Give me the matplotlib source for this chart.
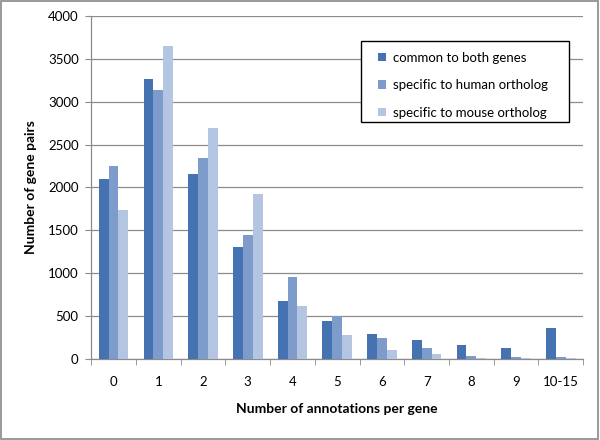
import matplotlib
matplotlib.use("Agg")
import matplotlib.pyplot as plt
import numpy as np
from matplotlib.patches import Rectangle

plt.rcParams['font.family'] = ['Lato', 'DejaVu Sans']

categories = ["0", "1", "2", "3", "4", "5", "6", "7", "8", "9", "10-15"]
common = [2100, 3260, 2160, 1300, 680, 445, 287, 225, 159, 132, 365]
human = [2250, 3130, 2340, 1450, 960, 500, 248, 132, 38, 20, 25]
mouse = [1740, 3650, 2690, 1920, 620, 285, 105, 54, 10, 8, 12]
series_names = ["common to both genes", "specific to human ortholog", "specific to mouse ortholog"]
colors = ["#4573b1", "#7e9ccb", "#b3c5e1"]

fig = plt.figure(figsize=(6, 4.4), dpi=100)
ax = fig.add_axes([0.152, 0.184, 0.820, 0.780])

x = np.arange(len(categories))
w = 0.22
for i, (vals, name, c) in enumerate(zip([common, human, mouse], series_names, colors)):
    ax.bar(x + (i - 1) * w, vals, width=w, color=c, label=name, zorder=3)

ax.set_xlim(-0.5, len(categories) - 0.5)
ax.set_ylim(0, 4000)
ax.set_yticks(np.arange(0, 4001, 500))
ax.yaxis.grid(True, color="#8c8c8c", linewidth=0.9, zorder=0)
ax.set_axisbelow(True)

ax.set_xticks(x)
ax.set_xticklabels(categories, fontsize=9.5)
ax.set_xticks(np.arange(-0.5, len(categories), 1), minor=True)
ax.tick_params(axis='x', which='major', length=0, pad=12)
ax.tick_params(axis='x', which='minor', length=4, color="#8c8c8c", direction='out')
ax.tick_params(axis='y', length=4, color="#8c8c8c", labelsize=9.5, pad=5)

for s in ["top", "right"]:
    ax.spines[s].set_visible(False)
for s in ["left", "bottom"]:
    ax.spines[s].set_color("#8c8c8c")
    ax.spines[s].set_linewidth(0.9)

ax.set_xlabel("Number of annotations per gene", fontsize=10, fontweight='bold', labelpad=11)
ax.set_ylabel("Number of gene pairs", fontsize=10, fontweight='bold', labelpad=8)

# legend frame drawn separately for exact padding
ax.add_patch(Rectangle((0.549, 0.691), 0.423, 0.236, transform=ax.transAxes,
                       facecolor='white', edgecolor='black', linewidth=1.0,
                       zorder=4, clip_on=False))
leg = ax.legend(loc='upper left', bbox_to_anchor=(0.583, 0.896), fontsize=9.5,
                frameon=False, handlelength=0.6, handleheight=0.6, handletextpad=0.5,
                labelspacing=1.19, borderpad=0, borderaxespad=0)
leg.set_zorder(5)

fig.patches.append(Rectangle((0.002, 0.003), 0.995, 0.994, transform=fig.transFigure,
                             fill=False, edgecolor="#888888", linewidth=1.2))

fig.savefig("out.png", dpi=100)
